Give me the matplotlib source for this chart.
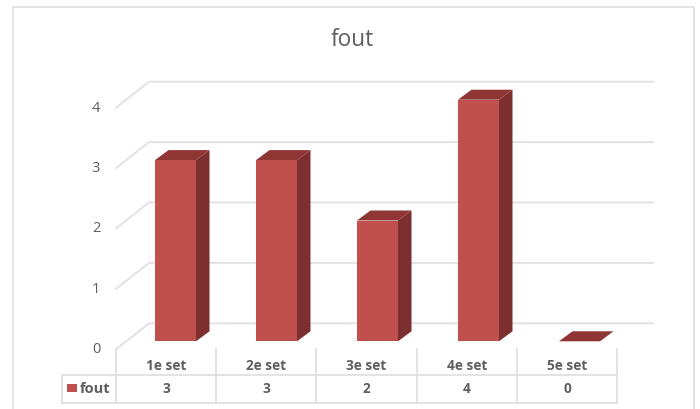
import matplotlib
matplotlib.use("Agg")
import matplotlib.pyplot as plt
from matplotlib.patches import Polygon, Rectangle

categories = ["1e set", "2e set", "3e set", "4e set", "5e set"]
values = [3, 3, 2, 4, 0]
y_ticks = [0, 1, 2, 3, 4]
series_name = "fout"
title = "fout"

W, H = 700, 410
X0, XSTEP = 175.5, 101.0      # pixel centre of the first bar, category spacing
Y0, YSTEP = 341.0, 60.4       # pixel of value 0, pixels per unit
SHIFT = 1.3                   # vertical nudge of the whole drawing, pixels
TABLE_STEP = 100.2 / XSTEP    # table columns are slightly narrower than the bars' spacing


def dx(p):
    return p / XSTEP


def dy(p):
    return p / YSTEP


def X(p):
    return (p - X0) / XSTEP


def Y(p):
    return (Y0 - p) / YSTEP


FRONT, SIDE, TOP = "#c0504d", "#7c2f2e", "#8f3634"
GRID = "#e0e0e0"
TXT = "#5f5f5f"
FONT = "Open Sans"

fig = plt.figure(figsize=(W / 100, H / 100), dpi=100, facecolor="white")
ax = fig.add_axes([0, 0, 1, 1])
ax.set_xlim(X(0), X(W))
ax.set_ylim((Y0 + SHIFT - H) / YSTEP, (Y0 + SHIFT) / YSTEP)
ax.axis("off")

# chart frame
ax.plot([X(12.5), X(12.5), X(694), X(694)], [Y(H + 5), Y(7), Y(7), Y(H + 5)],
        color="#dcdcdc", lw=1.1, solid_joinstyle="miter", zorder=1)

# gridlines: front-left diagonal plus back wall
back_off, front_off = dy(18), -dy(8)
for v in y_ticks:
    ax.plot([X(116), X(149), X(653)],
            [v + front_off, v + back_off, v + back_off],
            color=GRID, lw=1.3, zorder=1)
    ax.text(X(96), v + dy(-7.5), str(v), color=TXT, fontsize=10.5,
            family=FONT, ha="center", va="center")

# bars with fake depth
bar_w = 41 / XSTEP
ddx, ddy = dx(13.5), dy(10)
positions = list(range(len(values)))
ax.bar(positions, values, width=bar_w, bottom=0, color=FRONT, zorder=4)
for x, v in zip(positions, values):
    l, r = x - bar_w / 2, x + bar_w / 2
    ax.add_patch(Polygon([(r, 0), (r + ddx, ddy), (r + ddx, v + ddy), (r, v)],
                         closed=True, fc=SIDE, ec="none", zorder=3))
    ax.add_patch(Polygon([(l, v), (l + ddx, v + ddy), (r + ddx, v + ddy), (r, v)],
                         closed=True, fc=TOP, ec="none", zorder=3))

# data table
col_edges = [X(116) + i * TABLE_STEP for i in range(len(categories) + 1)]
row_top, row_mid, row_bot = Y(349), Y(375), Y(403)
ax.plot([X(62), col_edges[-1]], [row_mid, row_mid], color=GRID, lw=1.3, zorder=2)
ax.plot([X(62), col_edges[-1]], [row_bot, row_bot], color=GRID, lw=1.3, zorder=2)
ax.plot([X(62), X(62)], [row_mid, row_bot], color=GRID, lw=1.3, zorder=2)
for e in col_edges:
    ax.plot([e, e], [row_top, row_bot], color=GRID, lw=1.3, zorder=2)
for i, (c, v) in enumerate(zip(categories, values)):
    cx = col_edges[i] + TABLE_STEP / 2
    ax.text(cx, Y(364.5), c, color=TXT, fontsize=9.8, family=FONT, weight="bold",
            ha="center", va="center")
    ax.text(cx, Y(388), str(v), color=TXT, fontsize=9.8, family=FONT, weight="bold",
            ha="center", va="center")
ax.add_patch(Rectangle((X(67), Y(392)), dx(10), dy(8), fc=FRONT, ec="none", zorder=3))
ax.text(X(80), Y(387.5), series_name, color=TXT, fontsize=10.5, family=FONT,
        weight="bold", ha="left", va="center")

ax.text(X(352), Y(39), title, color=TXT, fontsize=16.3, family=FONT,
        ha="center", va="center")

fig.savefig("out.png", dpi=100, facecolor="white")
